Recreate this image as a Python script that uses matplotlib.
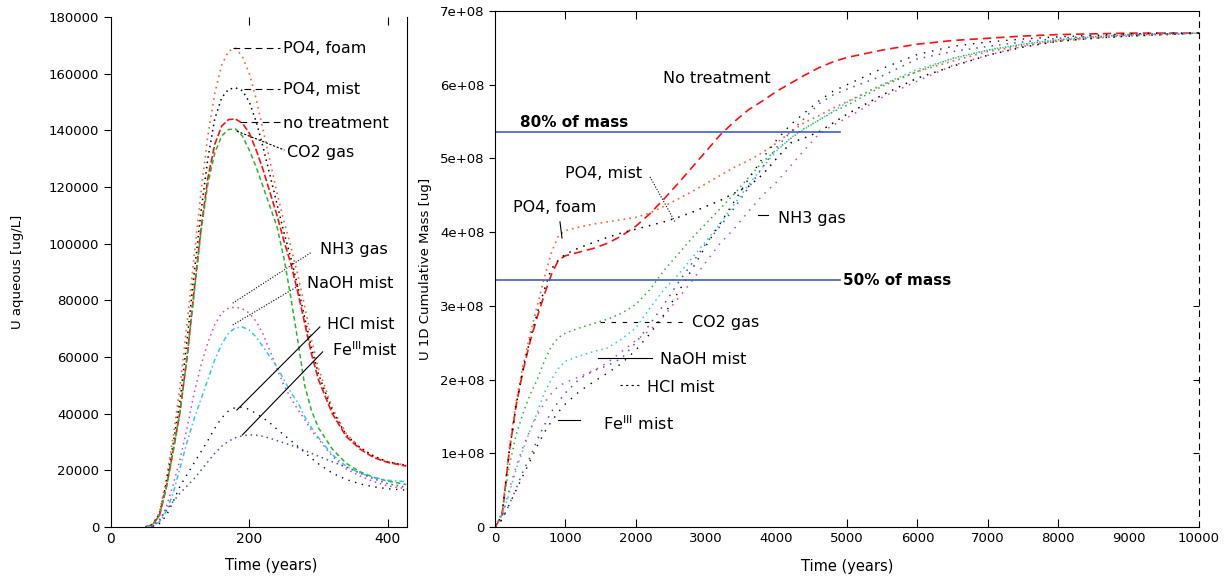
import matplotlib
matplotlib.use("Agg")
import matplotlib.pyplot as plt
import numpy as np

# ---------------- Left panel data: U aqueous [ug/L] ----------------
t_left = [50, 60, 70, 80, 90, 100, 110, 120, 130, 140, 150, 160, 170, 180, 190, 200,
          210, 220, 230, 240, 250, 260, 270, 280, 290, 300, 320, 340, 360, 380, 400, 427]

aq_no_treatment = [0, 800, 4000, 14000, 27000, 41000, 60000, 83000, 105000, 123000, 135000,
                   141500, 143800, 144000, 142500, 139000, 133000, 126000, 118000, 110000,
                   101000, 93000, 83000, 72000, 61000, 52000, 40000, 32000, 27500, 24500,
                   22800, 21500]
aq_po4_foam = [0, 1000, 5000, 17000, 32000, 50000, 72000, 95000, 118000, 138000, 153000,
               163000, 168000, 169000, 166000, 160000, 151000, 140000, 129000, 118000,
               108000, 99000, 89000, 78000, 66000, 56000, 42000, 33000, 28000, 25000,
               23000, 21800]
aq_po4_mist = [0, 900, 4500, 15500, 29500, 45000, 66000, 89000, 111000, 130000, 144000,
               151500, 154500, 155000, 154000, 150000, 143000, 134000, 124000, 114000,
               104000, 95000, 85000, 74000, 63000, 54000, 41000, 32500, 28000, 25000,
               23000, 21800]
aq_co2_gas = [0, 800, 4000, 14000, 27000, 41000, 60000, 82000, 104000, 121000, 132000,
              138000, 140300, 140500, 138000, 133000, 127000, 120000, 113000, 106000,
              95000, 81000, 66000, 50000, 41000, 35000, 27500, 22500, 19500, 17500,
              16200, 15000]
aq_nh3_gas = [0, 300, 2000, 7000, 15000, 24000, 35000, 47000, 57000, 65000, 71500, 75500,
              77300, 77600, 77000, 75500, 72500, 68000, 62000, 56000, 50000, 45500, 41500,
              38000, 34000, 31000, 25000, 20500, 18000, 16000, 14500, 13500]
aq_naoh_mist = [0, 300, 1800, 5500, 12000, 21000, 30000, 38000, 45000, 52000, 59000, 64500,
                68500, 70300, 70600, 69500, 67000, 63500, 60000, 56500, 52000, 47500, 44000,
                39000, 35000, 31500, 25500, 21500, 19000, 17500, 16500, 16000]
aq_hcl_mist = [0, 200, 1200, 4000, 9000, 14500, 18500, 22500, 26500, 30500, 34800, 38500,
               41000, 42200, 42300, 41500, 40000, 38500, 36700, 34500, 32500, 30500, 28500,
               26300, 24200, 22300, 19000, 16800, 15200, 14200, 13500, 13000]
aq_fe_mist = [0, 500, 2500, 6000, 9000, 12000, 14500, 17000, 20000, 23000, 26000, 28500,
              30300, 31500, 32200, 32500, 32400, 32000, 31300, 30500, 29700, 28900, 28000,
              27000, 26000, 25000, 23000, 21200, 19000, 17000, 15300, 14000]

# ---------------- Right panel data: U 1D cumulative mass [ug] (x1e8) ----------------
t_right = [0, 100, 200, 300, 400, 500, 600, 700, 800, 900, 1000, 1200, 1400, 1600, 1800,
           2000, 2200, 2400, 2600, 2800, 3000, 3200, 3400, 3600, 3800, 4000, 4200, 4400,
           4600, 4800, 5000, 5500, 6000, 6500, 7000, 7500, 8000, 8500, 9000, 9500, 10000]

m_no_treatment = [0, 0.15, 1.0, 1.65, 2.13, 2.52, 2.85, 3.15, 3.42, 3.62, 3.68, 3.73, 3.78,
                  3.85, 3.95, 4.08, 4.25, 4.45, 4.66, 4.88, 5.10, 5.32, 5.50, 5.66, 5.78,
                  5.91, 6.02, 6.13, 6.23, 6.31, 6.37, 6.47, 6.55, 6.60, 6.63, 6.66, 6.68,
                  6.69, 6.70, 6.70, 6.70]
m_po4_foam = [0, 0.17, 1.05, 1.70, 2.20, 2.62, 3.00, 3.38, 3.72, 3.95, 4.02, 4.07, 4.11,
              4.14, 4.17, 4.20, 4.26, 4.35, 4.45, 4.55, 4.66, 4.77, 4.88, 4.97, 5.08, 5.21,
              5.36, 5.49, 5.58, 5.68, 5.77, 6.00, 6.18, 6.32, 6.45, 6.53, 6.59, 6.63, 6.66,
              6.68, 6.70]
m_po4_mist = [0, 0.16, 1.0, 1.65, 2.15, 2.55, 2.90, 3.22, 3.50, 3.62, 3.70, 3.79, 3.86,
              3.93, 3.99, 4.04, 4.09, 4.14, 4.20, 4.27, 4.35, 4.43, 4.53, 4.62, 4.78, 5.00,
              5.21, 5.28, 5.36, 5.48, 5.60, 5.86, 6.09, 6.25, 6.40, 6.51, 6.59, 6.63, 6.66,
              6.68, 6.70]
m_co2_gas = [0, 0.20, 0.82, 1.25, 1.55, 1.80, 2.00, 2.25, 2.45, 2.57, 2.63, 2.70, 2.76,
             2.82, 2.90, 3.02, 3.22, 3.48, 3.70, 3.92, 4.12, 4.32, 4.52, 4.74, 4.95, 5.12,
             5.27, 5.41, 5.52, 5.63, 5.72, 5.98, 6.18, 6.36, 6.47, 6.55, 6.61, 6.65, 6.68,
             6.69, 6.70]
m_naoh_mist = [0, 0.16, 0.45, 0.78, 1.05, 1.32, 1.55, 1.82, 2.00, 2.15, 2.25, 2.32, 2.38,
               2.43, 2.55, 2.70, 2.97, 3.22, 3.42, 3.65, 3.88, 4.12, 4.38, 4.64, 4.88, 5.10,
               5.28, 5.40, 5.52, 5.64, 5.76, 6.00, 6.21, 6.35, 6.47, 6.55, 6.61, 6.65, 6.68,
               6.69, 6.70]
m_fe_mist = [0, 0.10, 0.30, 0.52, 0.76, 0.95, 1.18, 1.38, 1.56, 1.70, 1.82, 2.01, 2.12,
             2.19, 2.29, 2.50, 2.75, 3.02, 3.31, 3.58, 3.85, 4.08, 4.33, 4.60, 4.88, 5.15,
             5.36, 5.55, 5.74, 5.86, 5.94, 6.12, 6.35, 6.45, 6.52, 6.58, 6.63, 6.66, 6.68,
             6.69, 6.70]
m_nh3_gas = [0, 0.12, 0.50, 0.82, 1.09, 1.32, 1.52, 1.68, 1.81, 1.91, 1.96, 2.04, 2.12,
             2.23, 2.38, 2.53, 2.67, 2.86, 3.10, 3.34, 3.60, 3.85, 4.05, 4.28, 4.50, 4.68,
             4.90, 5.12, 5.33, 5.45, 5.55, 5.83, 6.05, 6.26, 6.40, 6.52, 6.60, 6.64, 6.67,
             6.69, 6.70]
m_hcl_mist = [0, 0.10, 0.30, 0.50, 0.70, 0.90, 1.10, 1.28, 1.43, 1.56, 1.67, 1.84, 1.97,
              2.09, 2.22, 2.40, 2.62, 2.88, 3.18, 3.50, 3.82, 4.12, 4.42, 4.72, 5.00, 5.25,
              5.46, 5.62, 5.78, 5.91, 6.00, 6.22, 6.41, 6.52, 6.58, 6.62, 6.65, 6.67, 6.69,
              6.70, 6.70]

mass80 = 5.36e8
mass50 = 3.35e8
hline_end = 4900

left_yticks = [0, 20000, 40000, 60000, 80000, 100000, 120000, 140000, 160000, 180000]
right_yticks = [0, 1e8, 2e8, 3e8, 4e8, 5e8, 6e8, 7e8]
right_yticklabels = ["0", "1e+08", "2e+08", "3e+08", "4e+08", "5e+08", "6e+08", "7e+08"]
right_xticks = [0, 1000, 2000, 3000, 4000, 5000, 6000, 7000, 8000, 9000, 10000]

C_RED = "#ff1010"
C_ORANGE = "#ff6030"
C_GREEN = "#30b030"
C_CYAN = "#30c8e8"
C_MAG = "#d040d0"
C_BLUE = "#4050c8"
C_BLACK = "#000000"

dot = (0, (1, 2.5))
fig = plt.figure(figsize=(12.29, 5.78), dpi=100)
plt.rcParams['font.family'] = ['DejaVu Sans']

# ---------------- Left axes ----------------
ax1 = fig.add_axes([111/1229, 51/578, 296/1229, 510/578])
ax1.plot(t_left, aq_po4_foam, color=C_ORANGE, ls=dot, lw=1.2)
ax1.plot(t_left, aq_po4_mist, color=C_BLACK, ls=dot, lw=1.1)
ax1.plot(t_left, aq_no_treatment, color=C_RED, ls=(0, (4, 1.5)), lw=1.2)
ax1.plot(t_left, aq_co2_gas, color=C_GREEN, ls=(0, (3, 2)), lw=1.1)
ax1.plot(t_left, aq_nh3_gas, color=C_MAG, ls=dot, lw=1.1)
ax1.plot(t_left, aq_naoh_mist, color=C_CYAN, ls=(0, (3, 2, 1, 2)), lw=1.1)
ax1.plot(t_left, aq_hcl_mist, color=C_BLACK, ls=(0, (1, 4)), lw=1.0)
ax1.plot(t_left, aq_fe_mist, color=C_BLUE, ls=dot, lw=1.1)
ax1.set_xlim(0, 428)
ax1.set_ylim(0, 180000)
ax1.set_xticks([0, 200, 400])
ax1.set_yticks(left_yticks)
ax1.spines['top'].set_visible(False)
ax1.tick_params(axis='y', direction='out', length=5, labelsize=9.5, left=True, right=False)
ax1.tick_params(axis='x', direction='in', length=6, labelsize=10, top=True, bottom=True)
ax1.get_xaxis().get_major_ticks()[0].tick1line.set_visible(False)
ax1.get_xaxis().get_major_ticks()[0].tick2line.set_visible(False)
ax1.set_xlabel("Time (years)", fontsize=10.5)
ax1.xaxis.set_label_coords(0.54, -0.06)
ax1.set_ylabel("U aqueous [ug/L]", fontsize=9.5, labelpad=18)

tfs = 11.5
lk = dict(color='black', lw=0.8)
ax1.plot([176, 244], [169000, 169000], ls=(0, (6, 4)), **lk)
ax1.text(248, 169000, "PO4, foam", fontsize=tfs, va='center')
ax1.plot([193, 244], [154500, 154500], ls=(0, (6, 4)), **lk)
ax1.text(248, 154500, "PO4, mist", fontsize=tfs, va='center')
ax1.plot([186, 244], [143000, 143000], ls=(0, (6, 4)), **lk)
ax1.text(248, 142500, "no treatment", fontsize=tfs, va='center')
ax1.plot([182, 251], [139700, 133000], ls=(0, (2, 1.5)), **lk)
ax1.text(254, 132000, "CO2 gas", fontsize=tfs, va='center')
ax1.plot([176, 290], [79000, 97000], ls=(0, (1, 1.5)), **lk)
ax1.text(302, 97800, "NH3 gas", fontsize=tfs, va='center')
ax1.plot([176, 273], [71300, 85400], ls=(0, (1, 1.5)), **lk)
ax1.text(284, 86000, "NaOH mist", fontsize=tfs, va='center')
ax1.plot([182, 302], [41300, 70600], **lk)
ax1.text(313, 71300, "HCl mist", fontsize=tfs, va='center')
ax1.plot([190, 306], [32500, 61800], **lk)
ax1.text(319, 62500, r"Fe$^{\mathregular{III}}$mist", fontsize=tfs, va='center')

# ---------------- Right axes ----------------
ax2 = fig.add_axes([495/1229, 51/578, 704/1229, 516/578])
sc = 1e8
ax2.plot(t_right, np.array(m_no_treatment)*sc, color=C_RED, ls=(0, (5, 3)), lw=1.2)
ax2.plot(t_right, np.array(m_po4_foam)*sc, color=C_ORANGE, ls=dot, lw=1.2)
ax2.plot(t_right, np.array(m_po4_mist)*sc, color=C_BLACK, ls=(0, (1, 4)), lw=1.1)
ax2.plot(t_right, np.array(m_co2_gas)*sc, color=C_GREEN, ls=dot, lw=1.1)
ax2.plot(t_right, np.array(m_naoh_mist)*sc, color=C_CYAN, ls=dot, lw=1.1)
ax2.plot(t_right, np.array(m_fe_mist)*sc, color=C_BLUE, ls=(0, (1, 4)), lw=1.1)
ax2.plot(t_right, np.array(m_nh3_gas)*sc, color=C_MAG, ls=(0, (1, 4)), lw=1.1)
ax2.plot(t_right, np.array(m_hcl_mist)*sc, color=C_BLACK, ls=(0, (1, 5)), lw=1.0)
ax2.plot([0, hline_end], [mass80, mass80], color="#4060c0", lw=1.2)
ax2.plot([0, hline_end], [mass50, mass50], color="#4060c0", lw=1.2)
ax2.text(355, 5.39e8, "80% of mass", fontsize=11, fontweight='bold', va='bottom')
ax2.text(4950, mass50, "50% of mass", fontsize=11, fontweight='bold', va='center')

ax2.set_xlim(0, 10000)
ax2.set_ylim(0, 7e8)
ax2.set_xticks(right_xticks)
ax2.set_yticks(right_yticks)
ax2.set_yticklabels(right_yticklabels)
ax2.spines['right'].set_linestyle((0, (5, 5)))
ax2.tick_params(axis='y', direction='out', length=4, labelsize=9.5, left=True, right=True)
ax2.tick_params(axis='x', direction='in', length=6, labelsize=9.5, top=True, bottom=True)
for i, tk in enumerate(ax2.yaxis.get_major_ticks()):
    tk.tick2line.set_marker(matplotlib.lines.TICKLEFT)
    if i not in (1, 2, 3):
        tk.tick2line.set_visible(False)
for i, tk in enumerate(ax2.xaxis.get_major_ticks()):
    if i in (0, 3, 4, 9, 10):
        tk.tick1line.set_visible(False)
        tk.tick2line.set_visible(False)
ax2.set_xlabel("Time (years)", fontsize=10.5, labelpad=10)
ax2.set_ylabel("U 1D Cumulative Mass [ug]", fontsize=9.5, labelpad=6)

ax2.text(2386, 6.09e8, "No treatment", fontsize=tfs, va='center')
ax2.text(994, 4.80e8, "PO4, mist", fontsize=tfs, va='center')
ax2.plot([2202, 2557], [4.75e8, 4.14e8], ls=(0, (1, 1.5)), **lk)
ax2.text(256, 4.34e8, "PO4, foam", fontsize=tfs, va='center')
ax2.plot([923, 952], [4.14e8, 3.92e8], **lk)
ax2.text(4020, 4.19e8, "NH3 gas", fontsize=tfs, va='center')
ax2.plot([3736, 3878], [4.23e8, 4.23e8], **lk)
ax2.text(2798, 2.78e8, "CO2 gas", fontsize=tfs, va='center')
ax2.plot([1491, 2727], [2.78e8, 2.78e8], ls=(0, (4, 6)), **lk)
ax2.text(2344, 2.27e8, "NaOH mist", fontsize=tfs, va='center')
ax2.plot([1463, 2230], [2.29e8, 2.29e8], **lk)
ax2.text(2159, 1.89e8, "HCl mist", fontsize=tfs, va='center')
ax2.plot([1775, 2060], [1.93e8, 1.93e8], ls=(0, (2, 3)), **lk)
ax2.text(1534, 1.40e8, r"Fe$^{\mathregular{III}}$ mist", fontsize=tfs, va='center')
ax2.plot([895, 1207], [1.45e8, 1.45e8], **lk)

fig.savefig("out.png", dpi=100)
